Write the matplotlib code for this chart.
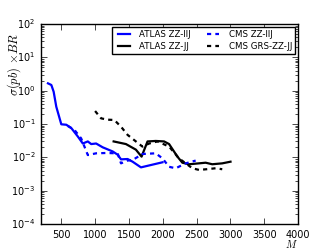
import numpy as np
import matplotlib
matplotlib.use("Agg")
import matplotlib.pyplot as plt

# data (mass in GeV, cross section x BR in pb)
atlas_llj_m = [303, 353, 387, 426, 500, 574, 647, 745, 818, 892, 942, 1015,
               1112, 1260, 1333, 1383, 1481, 1554, 1678, 1996]
atlas_llj_s = [1.66, 1.48, 0.93, 0.33, 0.098, 0.095, 0.076, 0.042, 0.026,
               0.030, 0.025, 0.026, 0.020, 0.015, 0.012, 0.0087, 0.0089,
               0.0074, 0.0050, 0.0071]

cms_llj_m = [597, 696, 794, 892, 1015, 1160, 1333, 1383, 1480, 1554, 1700,
             1897, 1996, 2094, 2192, 2340, 2487]
cms_llj_s = [0.087, 0.066, 0.037, 0.0117, 0.0132, 0.0135, 0.0132, 0.0066,
             0.0080, 0.0083, 0.0126, 0.0132, 0.0093, 0.0052, 0.0047, 0.0066,
             0.0080]

atlas_jj_m = [1274, 1456, 1603, 1687, 1775, 1897, 2020, 2094, 2217, 2290,
              2389, 2536, 2634, 2732, 2880, 3002]
atlas_jj_s = [0.030, 0.025, 0.017, 0.0105, 0.030, 0.031, 0.030, 0.025,
              0.0105, 0.0069, 0.0062, 0.0066, 0.0069, 0.0062, 0.0066, 0.0074]

cms_grs_m = [1000, 1088, 1180, 1284, 1383, 1481, 1603, 1700, 1800, 1922,
             2094, 2241, 2340, 2438, 2536, 2650, 2781, 2880]
cms_grs_s = [0.245, 0.148, 0.135, 0.132, 0.083, 0.047, 0.030, 0.021, 0.026,
             0.030, 0.021, 0.0093, 0.0066, 0.0047, 0.0042, 0.0044, 0.0047,
             0.0044]

plt.style.use('classic')
plt.rcParams['font.size'] = 7

fig = plt.figure(figsize=(3.32, 2.49), dpi=100, facecolor='white')
ax = fig.add_axes([0.1235, 0.1004, 0.7741, 0.8032])

ax.semilogy(atlas_llj_m, atlas_llj_s, color='b', lw=1.6, label='ATLAS ZZ-llJ')
ax.semilogy(atlas_jj_m, atlas_jj_s, color='k', lw=1.6, label='ATLAS ZZ-JJ')
ax.semilogy(cms_llj_m, cms_llj_s, color='b', lw=1.6, ls='--', dashes=(3, 3),
            label='CMS ZZ-llJ')
ax.semilogy(cms_grs_m, cms_grs_s, color='k', lw=1.6, ls='--', dashes=(3, 3),
            label='CMS GRS-ZZ-JJ')

ax.set_xlim(200, 4000)
ax.set_ylim(1e-4, 1e2)
ax.set_xticks([500, 1000, 1500, 2000, 2500, 3000, 3500, 4000])
ax.tick_params(labelsize=7)

ax.set_xlabel('$M$', fontsize=7.5, loc='right')
ax.xaxis.set_label_coords(1.0, -0.07)
ax.set_ylabel(r'$\sigma(pb)$ $\times BR$', fontsize=9)
ax.yaxis.set_label_coords(-0.07, 0.80)

ax.legend(loc='upper right', ncol=2, fontsize=6.2, handlelength=2,
          borderaxespad=0.3, columnspacing=1.6, labelspacing=0.3,
          frameon=True, fancybox=False)

fig.savefig('out.png', dpi=100, facecolor='white')
